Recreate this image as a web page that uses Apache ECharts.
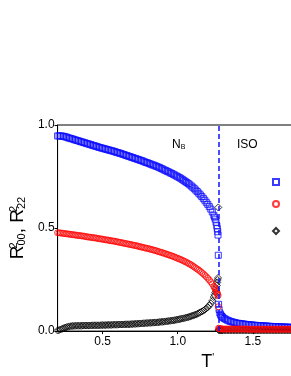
<!DOCTYPE html>
<html>
<head>
<meta charset="utf-8">
<script src="https://cdn.jsdelivr.net/npm/echarts@6/dist/echarts.min.js"></script>
<style>
html,body{margin:0;padding:0;overflow:hidden;background:#fff;width:291px;height:376px;}
#c{width:380px;height:376px;}
</style>
</head>
<body>
<div id="c"></div>
<script>
// Nematic-phase temperatures (T')
var tNem = [0.20,0.21,0.22,0.23,0.24,0.25,0.26,0.27,0.28,0.29,
0.30,0.31,0.32,0.33,0.34,0.35,0.36,0.37,0.38,0.39,
0.40,0.41,0.42,0.43,0.44,0.45,0.46,0.47,0.48,0.49,
0.50,0.51,0.52,0.53,0.54,0.55,0.56,0.57,0.58,0.59,
0.60,0.61,0.62,0.63,0.64,0.65,0.66,0.67,0.68,0.69,
0.70,0.71,0.72,0.73,0.74,0.75,0.76,0.77,0.78,0.79,
0.80,0.81,0.82,0.83,0.84,0.85,0.86,0.87,0.88,0.89,
0.90,0.91,0.92,0.93,0.94,0.95,0.96,0.97,0.98,0.99,
1.00,1.01,1.02,1.03,1.04,1.05,1.06,1.07,1.08,1.09,
1.10,1.11,1.12,1.13,1.14,1.15,1.16,1.17,1.18,1.19,
1.20,1.21,1.22,1.23,1.24,
1.245,1.25,1.255,1.26,1.263,1.266,1.268,1.27];
var r00Nem = [0.947,0.947,0.947,0.946,0.945,0.943,0.941,0.938,0.936,0.934,
0.932,0.929,0.927,0.925,0.923,0.920,0.918,0.916,0.914,0.911,
0.909,0.907,0.905,0.902,0.900,0.898,0.896,0.893,0.891,0.889,
0.887,0.885,0.883,0.881,0.879,0.877,0.875,0.873,0.871,0.868,
0.866,0.864,0.862,0.859,0.857,0.854,0.852,0.849,0.847,0.844,
0.842,0.839,0.837,0.834,0.832,0.829,0.827,0.824,0.821,0.818,
0.816,0.813,0.810,0.807,0.805,0.802,0.799,0.796,0.793,0.789,
0.786,0.782,0.779,0.775,0.772,0.768,0.765,0.761,0.757,0.753,
0.749,0.745,0.741,0.736,0.731,0.726,0.721,0.716,0.710,0.704,
0.698,0.691,0.684,0.677,0.669,0.661,0.653,0.644,0.635,0.625,
0.615,0.604,0.592,0.578,0.562,
0.553,0.543,0.528,0.511,0.497,0.482,0.466,0.368];
var r22Nem = [0.477,0.477,0.476,0.475,0.474,0.473,0.472,0.471,0.470,0.469,
0.468,0.467,0.466,0.465,0.464,0.463,0.462,0.461,0.460,0.458,
0.457,0.456,0.455,0.454,0.453,0.452,0.451,0.449,0.448,0.447,
0.446,0.444,0.443,0.442,0.441,0.439,0.438,0.437,0.436,0.434,
0.433,0.431,0.430,0.428,0.427,0.425,0.424,0.422,0.421,0.419,
0.418,0.416,0.415,0.413,0.411,0.409,0.408,0.406,0.404,0.402,
0.401,0.399,0.397,0.395,0.393,0.391,0.389,0.386,0.384,0.382,
0.380,0.377,0.375,0.372,0.370,0.367,0.365,0.362,0.359,0.356,
0.353,0.350,0.347,0.344,0.340,0.337,0.333,0.329,0.325,0.321,
0.316,0.311,0.306,0.301,0.296,0.290,0.284,0.278,0.271,0.264,
0.256,0.248,0.239,0.229,0.217,
0.211,0.205,0.198,0.190,0.184,0.178,0.172,0.118];
var r02Nem = [0.003,0.005,0.008,0.011,0.014,0.017,0.019,0.021,0.023,0.024,
0.025,0.025,0.026,0.026,0.026,0.026,0.026,0.027,0.027,0.027,
0.027,0.027,0.027,0.028,0.028,0.028,0.028,0.028,0.028,0.029,
0.029,0.029,0.029,0.030,0.030,0.030,0.030,0.031,0.031,0.031,
0.031,0.032,0.032,0.032,0.032,0.033,0.033,0.033,0.033,0.034,
0.034,0.035,0.035,0.036,0.036,0.037,0.037,0.038,0.038,0.039,
0.039,0.040,0.040,0.041,0.041,0.042,0.042,0.043,0.044,0.045,
0.045,0.046,0.047,0.048,0.049,0.050,0.051,0.052,0.053,0.055,
0.056,0.058,0.059,0.061,0.062,0.064,0.066,0.068,0.070,0.073,
0.075,0.078,0.080,0.084,0.087,0.091,0.095,0.099,0.104,0.110,
0.116,0.124,0.134,0.147,0.165,
0.176,0.188,0.205,0.222,0.236,0.248,0.258,0.600];

// Isotropic-phase temperatures (T')
var tIso = [1.272,1.275,1.28,1.285,1.29,1.295,1.30,
1.31,1.32,1.33,1.34,1.35,1.36,1.37,1.38,1.39,1.40,
1.41,1.42,1.43,1.44,1.45,1.46,1.47,1.48,1.49,1.50,
1.51,1.52,1.53,1.54,1.55,1.56,1.57,1.58,1.59,1.60,
1.61,1.62,1.63,1.64,1.65,1.66,1.67,1.68,1.69,1.70,
1.71,1.72,1.73,1.74,1.75,1.76,1.77,1.78,1.79,1.80,
1.85,1.90,1.95,2.00,2.05,2.10,2.15,2.20];
var r00Iso = [0.130,0.105,0.088,0.080,0.074,0.070,0.066,
0.061,0.057,0.053,0.050,0.047,0.045,0.043,0.041,0.039,0.038,
0.037,0.036,0.035,0.034,0.033,0.032,0.031,0.030,0.030,0.029,
0.028,0.028,0.027,0.027,0.026,0.026,0.025,0.025,0.024,0.024,
0.023,0.023,0.022,0.022,0.022,0.021,0.021,0.021,0.020,0.020,
0.020,0.019,0.019,0.019,0.018,0.018,0.018,0.018,0.017,0.017,
0.016,0.015,0.014,0.013,0.013,0.012,0.012,0.011];
var r22Iso = [0.014,0.012,0.011,0.011,0.011,0.010,0.010,
0.010,0.010,0.010,0.010,0.010,0.010,0.010,0.010,0.010,0.010,
0.010,0.010,0.010,0.010,0.010,0.010,0.009,0.009,0.009,0.009,
0.009,0.009,0.009,0.009,0.009,0.009,0.009,0.009,0.009,0.009,
0.009,0.009,0.009,0.009,0.009,0.009,0.009,0.009,0.009,0.009,
0.009,0.009,0.009,0.009,0.009,0.009,0.009,0.009,0.009,0.009,
0.008,0.008,0.008,0.008,0.008,0.008,0.008,0.008];
var r02Iso = [0.006,0.005,0.005,0.005,0.004,0.004,0.004,
0.004,0.004,0.004,0.004,0.004,0.004,0.004,0.004,0.004,0.004,
0.004,0.004,0.004,0.004,0.004,0.004,0.004,0.004,0.004,0.004,
0.004,0.004,0.004,0.004,0.004,0.004,0.004,0.004,0.004,0.004,
0.004,0.004,0.004,0.004,0.004,0.004,0.004,0.004,0.004,0.004,
0.004,0.004,0.004,0.004,0.004,0.004,0.004,0.004,0.004,0.004,
0.004,0.004,0.004,0.004,0.004,0.004,0.004,0.004];

var transitionT = 1.27;
var xTicks = [0.5, 1.0, 1.5, 2.0];

function pairs(ts, vs) { return ts.map(function (t, i) { return [t, vs[i]]; }); }

var FONT = 'Liberation Sans, Arial, sans-serif';
var chart = echarts.init(document.getElementById('c'), null, {renderer: 'canvas'});

function leg(name, top) {
  return {
    data: [name], orient: 'vertical', left: 272, top: top, padding: 0,
    itemWidth: 6, itemHeight: 6, formatter: function () { return ''; },
    textStyle: {fontSize: 6}, selectedMode: false
  };
}

chart.setOption({
  animation: false,
  backgroundColor: '#fff',
  grid: {left: 54, right: 22, top: 125, bottom: 42, show: true, borderColor: '#000', borderWidth: 1},
  legend: [leg('R00', 178), leg('R22', 200), leg('R02', 227)],
  xAxis: {
    type: 'value', min: 0.2, max: 2.2,
    name: '{r|T}{p|\'}', nameLocation: 'middle', nameGap: 21,
    nameTextStyle: {rich: {
      r: {fontSize: 18, fontFamily: FONT, color: '#000'},
      p: {fontSize: 10, fontFamily: FONT, color: '#000', verticalAlign: 'top'}
    }},
    axisLine: {show: true, onZero: false, lineStyle: {color: '#000', width: 1}},
    axisTick: {show: true, inside: false, length: 3, customValues: xTicks, lineStyle: {color: '#000'}},
    axisLabel: {customValues: xTicks, fontSize: 12, fontFamily: FONT, color: '#000', margin: 5,
      formatter: function (v) { return v.toFixed(1); }},
    splitLine: {show: false}
  },
  yAxis: {
    type: 'value', min: 0, max: 1, interval: 0.5,
    name: '{r|R}{sup|2}{sub|00}{r|, R}{sup|2}{sub|22}',
    nameLocation: 'middle', nameRotate: 90, nameGap: 28,
    nameTextStyle: {rich: {
      r: {fontSize: 19, fontFamily: FONT, color: '#000'},
      sup: {fontSize: 11, fontFamily: FONT, color: '#000', verticalAlign: 'top', width: 0},
      sub: {fontSize: 11, fontFamily: FONT, color: '#000', verticalAlign: 'bottom'}
    }},
    axisLine: {show: true, lineStyle: {color: '#000', width: 1}},
    axisTick: {show: true, inside: false, length: 3, lineStyle: {color: '#000'}},
    axisLabel: {fontSize: 12, fontFamily: FONT, color: '#000', margin: 3,
      formatter: function (v) { return v.toFixed(1); }},
    splitLine: {show: false}
  },
  graphic: [
    {type: 'text', left: 172, top: 139, style: {
      text: '{n|N}{b|B}', rich: {
        n: {fontSize: 12, fontFamily: FONT, fill: '#000'},
        b: {fontSize: 7, fontFamily: FONT, fill: '#000', verticalAlign: 'bottom'}
      }}},
    {type: 'text', left: 237, top: 139, style: {text: 'ISO', fontSize: 12, fontFamily: FONT, fill: '#000'}}
  ],
  series: [
    {
      name: 'R00', type: 'scatter', symbol: 'rect', symbolSize: 6,
      data: pairs(tNem, r00Nem).concat(pairs(tIso, r00Iso)),
      itemStyle: {color: 'rgba(0,0,0,0)', borderColor: '#0a0aff', borderWidth: 1},
      markLine: {
        silent: true, symbol: ['none', 'none'], label: {show: false},
        lineStyle: {color: '#1010ff', type: [5, 3], width: 1.5},
        data: [{xAxis: transitionT}]
      }
    },
    {
      name: 'R02', type: 'scatter', symbol: 'diamond', symbolSize: 7,
      data: pairs(tNem, r02Nem).concat(pairs(tIso, r02Iso)),
      itemStyle: {color: 'rgba(0,0,0,0)', borderColor: '#000', borderWidth: 1}
    },
    {
      name: 'R22', type: 'scatter', symbol: 'circle', symbolSize: 6,
      data: pairs(tNem, r22Nem).concat(pairs(tIso, r22Iso)),
      itemStyle: {color: 'rgba(0,0,0,0)', borderColor: '#ff0a0a', borderWidth: 1}
    }
  ]
});
</script>
</body>
</html>
